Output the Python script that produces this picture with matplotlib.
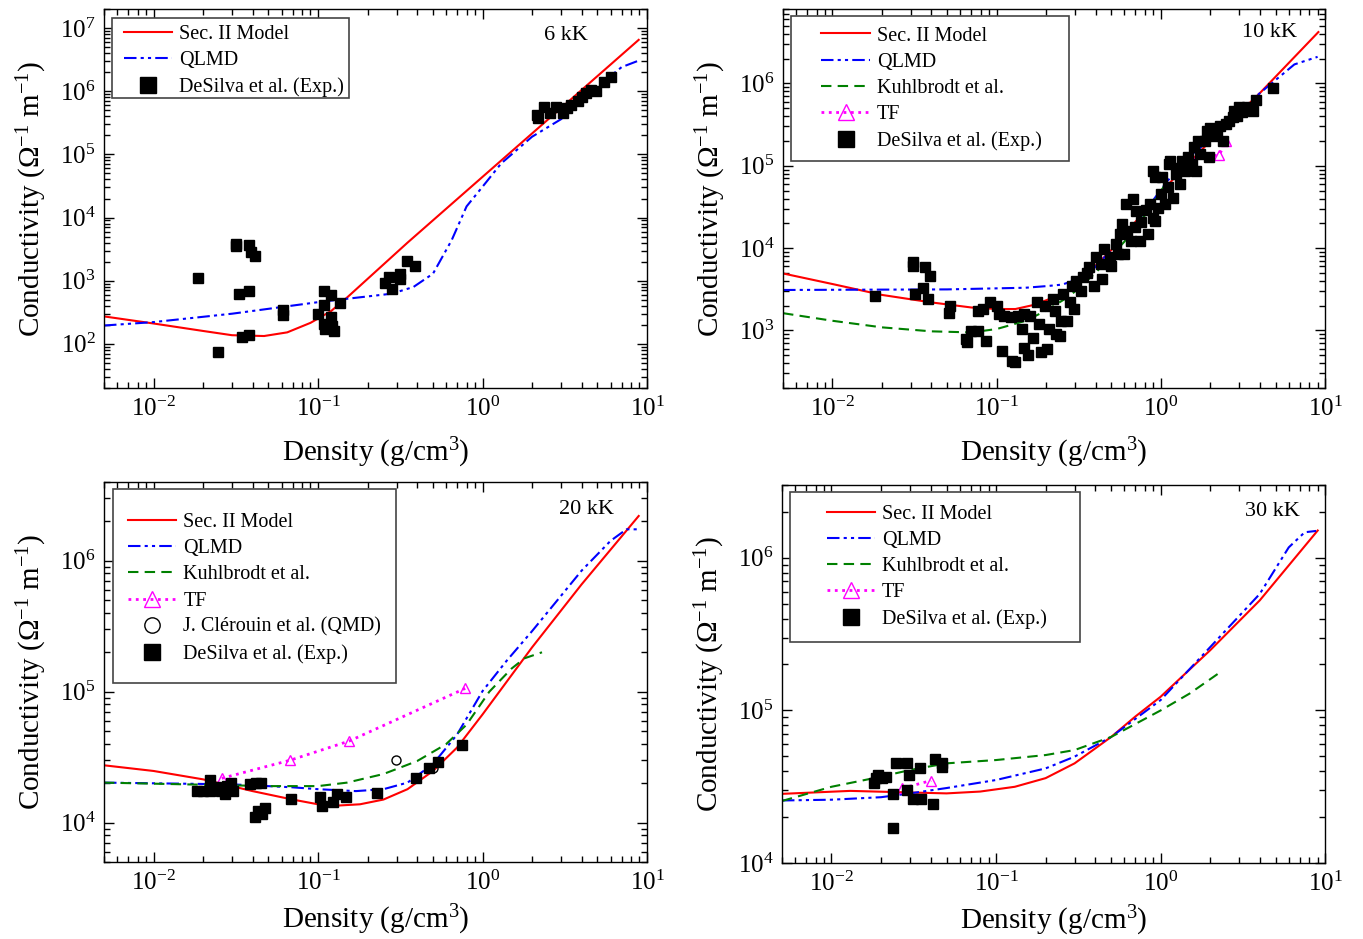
import matplotlib
matplotlib.use("Agg")
import matplotlib.pyplot as plt
from matplotlib.ticker import LogLocator, NullFormatter, LogFormatterSciNotation
from matplotlib.patches import Rectangle

plt.rcParams['font.family'] = ['Liberation Serif', 'DejaVu Serif']
plt.rcParams['mathtext.fontset'] = 'custom'
plt.rcParams['mathtext.rm'] = 'Liberation Serif'
plt.rcParams['mathtext.it'] = 'Liberation Serif:italic'
plt.rcParams['mathtext.bf'] = 'Liberation Serif:bold'
plt.rcParams['axes.unicode_minus'] = False

# ---------------- 6 kK ----------------
sec2_6_x = [0.005, 0.01, 0.02, 0.03, 0.047, 0.065, 0.09, 0.12, 0.15, 0.35, 1.0, 3.0, 8.9]
sec2_6_y = [272, 210, 160, 137, 133, 152, 215, 330, 540, 4000, 44000, 5.4e5, 6.5e6]
qlmd_6_x = [0.005, 0.01, 0.03, 0.1, 0.15, 0.28, 0.38, 0.5, 0.65, 0.8, 1.0, 1.3, 2.0, 3.0, 4.0, 5.6, 7.0, 8.9]
qlmd_6_y = [195, 221, 300, 457, 517, 622, 794, 1290, 4400, 15000, 30700, 72000, 1.9e5, 3.6e5, 7.0e5, 1.5e6, 2.4e6, 3.05e6]
exp_6_x = [0.0187, 0.0316, 0.0316, 0.0379, 0.039, 0.0415, 0.033, 0.0379, 0.0245, 0.0347, 0.038,
           0.0616, 0.0616, 0.1, 0.109, 0.12, 0.108, 0.108, 0.11, 0.12, 0.122, 0.125, 0.1355,
           0.256, 0.27, 0.28, 0.316, 0.316, 0.346, 0.386,
           2.13, 2.18, 2.38, 2.56, 2.80, 3.07, 3.26, 3.46, 3.79, 4.03, 4.28, 4.55, 4.92, 5.45, 6.05]
exp_6_y = [1117, 3860, 3500, 3650, 2850, 2450, 622, 686, 74, 128, 139,
           338, 282, 300, 686, 585, 406, 209, 174, 263, 195, 162, 443,
           918, 1150, 746, 1290, 1070, 2050, 1690,
           4.2e5, 3.7e5, 5.7e5, 4.5e5, 5.6e5, 4.5e5, 5.4e5, 6.1e5, 6.9e5, 8.2e5, 9.3e5, 1.05e6, 9.9e5, 1.42e6, 1.65e6]

# ---------------- 10 kK ----------------
sec2_10_x = [0.005, 0.01, 0.02, 0.04, 0.07, 0.1, 0.13, 0.17, 0.25, 0.3, 0.5, 1.0, 2.0, 4.0, 9.1]
sec2_10_y = [4920, 3660, 2700, 2190, 1900, 1820, 1820, 2050, 2760, 3500, 9500, 4.8e4, 2e5, 7.6e5, 4.2e6]
qlmd_10_x = [0.005, 0.05, 0.15, 0.2, 0.25, 0.35, 0.676, 1.1, 2.0, 4.0, 5.0, 6.5, 9.0]
qlmd_10_y = [3100, 3150, 3300, 3450, 3600, 4500, 1.78e4, 6.6e4, 2.2e5, 7.6e5, 1.1e6, 1.7e6, 2.1e6]
kuhl_10_x = [0.005, 0.01, 0.02, 0.04, 0.07, 0.1, 0.15, 0.2, 0.28, 0.4, 0.6, 0.8, 1.1]
kuhl_10_y = [1620, 1310, 1090, 975, 946, 1040, 1310, 1740, 2640, 5000, 1.2e4, 2.5e4, 6.6e4]
tf_10_x = [1.4, 2.27, 2.5]
tf_10_y = [1.15e5, 1.36e5, 2.0e5]
exp_10_x = [0.0182, 0.031, 0.031, 0.0316, 0.0356, 0.0365, 0.0383, 0.0395, 0.052, 0.051,
            0.065, 0.066, 0.070, 0.0765, 0.0765, 0.082, 0.0855, 0.0915, 0.1, 0.1035,
            0.108, 0.111, 0.122, 0.124, 0.13, 0.134, 0.142, 0.147, 0.147, 0.156,
            0.16, 0.167, 0.176, 0.18, 0.186, 0.197, 0.203, 0.208, 0.22, 0.226,
            0.229, 0.242, 0.246, 0.254, 0.267, 0.278, 0.286, 0.295, 0.304, 0.324,
            0.334, 0.357, 0.367, 0.39, 0.40, 0.43, 0.44, 0.45, 0.487, 0.50,
            0.53, 0.55, 0.56, 0.58, 0.60, 0.61, 0.62, 0.655, 0.676, 0.70,
            0.71, 0.75, 0.76, 0.81, 0.84, 0.86, 0.89, 0.89, 0.915, 0.915,
            0.96, 0.995, 1.02, 1.06, 1.1, 1.12, 1.14, 1.18, 1.24, 1.28,
            1.3, 1.35, 1.4, 1.47, 1.54, 1.58, 1.64, 1.68, 1.74, 1.85,
            1.91, 1.97, 2.0, 2.1, 2.19, 2.3, 2.4, 2.5, 2.6, 2.73,
            2.8, 2.9, 3.0, 3.1, 3.33, 3.65, 3.77, 4.83]
exp_10_y = [2590, 6100, 6700, 2750, 3240, 5900, 2400, 4600, 2000, 1610,
            785, 715, 990, 1740, 990, 1820, 750, 2190, 2000, 1580,
            560, 1500, 1440, 430, 410, 1500, 1040, 620, 1580, 510,
            1500, 820, 2190, 1190, 540, 2000, 590, 1040, 2400, 1740,
            900, 860, 1310, 2760, 1310, 2190, 3470, 1820, 4000, 3020,
            4400, 5000, 5900, 3470, 7800, 6400, 4170, 9800, 7800, 6100,
            1.12e4, 8500, 1.48e4, 1.95e4, 8500, 3.4e4, 1.6e4, 1.23e4, 3.9e4, 1.78e4,
            2.8e4, 1.23e4, 2.1e4, 2.9e4, 1.48e4, 3.4e4, 2.35e4, 8.7e4, 7.2e4, 2.15e4,
            3.1e4, 4.5e4, 7.2e4, 3.4e4, 5.5e4, 1.05e5, 1.15e5, 4.1e4, 7.9e4, 9.5e4,
            6.0e4, 1.15e5, 8.7e4, 1.26e5, 1.05e5, 1.67e5, 8.7e4, 2.0e5, 1.38e5, 2.0e5,
            2.65e5, 1.26e5, 2.9e5, 2.3e5, 2.4e5, 3.06e5, 2.0e5, 3.2e5, 3.5e5, 3.9e5,
            4.66e5, 4.0e5, 5.1e5, 4.46e5, 5.1e5, 4.66e5, 6.3e5, 8.8e5]

# ---------------- 20 kK ----------------
sec2_20_x = [0.005, 0.01, 0.02, 0.04, 0.07, 0.1, 0.12, 0.18, 0.25, 0.35, 0.5, 0.7, 1.0, 2.0, 4.0, 8.9]
sec2_20_y = [2.74e4, 2.48e4, 2.14e4, 1.74e4, 1.5e4, 1.38e4, 1.34e4, 1.38e4, 1.5e4, 1.8e4, 2.48e4, 3.74e4,
             6.7e4, 2.18e5, 6.6e5, 2.2e6]
qlmd_20_x = [0.005, 0.03, 0.07, 0.1, 0.17, 0.25, 0.35, 0.5, 0.7, 1.0, 1.4, 2.0, 4.0, 6.0, 7.5, 8.8]
qlmd_20_y = [2.02e4, 1.96e4, 1.86e4, 1.8e4, 1.74e4, 1.8e4, 2.02e4, 2.8e4, 4.7e4, 1.01e5, 1.72e5, 2.9e5,
             8.4e5, 1.42e6, 1.74e6, 1.74e6]
kuhl_20_x = [0.005, 0.05, 0.1, 0.15, 0.25, 0.4, 0.6, 0.8, 1.1, 1.5, 1.8, 2.3]
kuhl_20_y = [2.02e4, 1.9e4, 1.9e4, 2.02e4, 2.35e4, 2.95e4, 3.97e4, 5.6e4, 1.0e5, 1.5e5, 1.8e5, 2.0e5]
tf_20_x = [0.026, 0.068, 0.155, 0.785]
tf_20_y = [2.18e4, 3.0e4, 4.2e4, 1.06e5]
qmd_20_x = [0.298, 0.497]
qmd_20_y = [3.0e4, 2.6e4]
exp_20_x = [0.0183, 0.0201, 0.022, 0.022, 0.024, 0.0256, 0.0272, 0.028, 0.0297, 0.0303,
            0.0386, 0.042, 0.045, 0.0416, 0.043, 0.0455, 0.0477, 0.0684, 0.103, 0.106,
            0.123, 0.13, 0.148, 0.229, 0.395, 0.47, 0.535, 0.751]
exp_20_y = [1.73e4, 1.73e4, 2.11e4, 1.74e4, 1.86e4, 1.74e4, 1.65e4, 1.9e4, 2.0e4, 1.73e4,
            1.96e4, 2.0e4, 2.0e4, 1.1e4, 1.23e4, 1.16e4, 1.29e4, 1.52e4, 1.57e4, 1.34e4,
            1.44e4, 1.65e4, 1.57e4, 1.68e4, 2.2e4, 2.6e4, 2.9e4, 3.9e4]

# ---------------- 30 kK ----------------
sec2_30_x = [0.005, 0.013, 0.03, 0.05, 0.08, 0.13, 0.2, 0.3, 0.5, 0.7, 1.0, 2.0, 4.0, 9.0]
sec2_30_y = [2.84e4, 2.97e4, 2.9e4, 2.86e4, 2.94e4, 3.16e4, 3.6e4, 4.5e4, 6.7e4, 9.1e4, 1.23e5, 2.48e5,
             5.26e5, 1.51e6]
qlmd_30_x = [0.005, 0.01, 0.02, 0.03, 0.05, 0.1, 0.2, 0.3, 0.5, 1.0, 2.0, 4.0, 6.0, 7.5, 8.8]
qlmd_30_y = [2.57e4, 2.6e4, 2.7e4, 2.86e4, 3.1e4, 3.5e4, 4.17e4, 4.98e4, 6.7e4, 1.17e5, 2.6e5, 5.8e5,
             1.17e6, 1.47e6, 1.5e6]
kuhl_30_x = [0.005, 0.01, 0.02, 0.03, 0.05, 0.1, 0.2, 0.3, 0.5, 1.0, 1.5, 2.3]
kuhl_30_y = [2.55e4, 3.16e4, 3.68e4, 4.07e4, 4.5e4, 4.73e4, 5.1e4, 5.5e4, 6.7e4, 1.0e5, 1.29e5, 1.78e5]
tf_30_x = [0.0269, 0.0403]
tf_30_y = [3.09e4, 3.47e4]
exp_30_x = [0.0182, 0.0187, 0.0193, 0.0202, 0.0214, 0.0247, 0.0286, 0.0296, 0.0343, 0.0428,
            0.0466, 0.0468, 0.0235, 0.0286, 0.0311, 0.0352, 0.0413, 0.0235]
exp_30_y = [3.37e4, 3.59e4, 3.78e4, 3.59e4, 3.64e4, 4.5e4, 4.5e4, 3.78e4, 4.22e4, 4.79e4,
            4.5e4, 4.27e4, 2.84e4, 3.02e4, 2.63e4, 2.63e4, 2.45e4, 1.69e4]

titles = ['6 kK', '10 kK', '20 kK', '30 kK']
ylims = [(20, 2e7), (200, 8e6), (5000, 4e6), (1e4, 3e6)]
xlim = (0.005, 10)

LBL_SEC = 'Sec. II Model'
LBL_QLMD = 'QLMD'
LBL_KUHL = 'Kuhlbrodt et al.'
LBL_TF = 'TF'
LBL_QMD = 'J. Clérouin et al. (QMD)'
LBL_EXP = 'DeSilva et al. (Exp.)'

fig = plt.figure(figsize=(13.63, 9.39), dpi=100)
positions = [
    [0.0763, 0.5868, 0.3984, 0.4036],
    [0.5745, 0.5868, 0.3977, 0.4036],
    [0.0763, 0.0820, 0.3984, 0.4047],
    [0.5737, 0.0809, 0.3986, 0.4026],
]
axes = [fig.add_axes(p) for p in positions]

red_kw = dict(color='#ff0000', lw=1.5, ls='-')
blue_kw = dict(color='#0000ff', lw=1.5, dashes=(6, 2, 1.5, 2, 1.5, 2))
green_kw = dict(color='#008000', lw=1.5, dashes=(5, 3))
tf_kw = dict(color='#ff00ff', lw=2.0, ls=':', marker='^', mfc='none', mec='#ff00ff', ms=6.5, mew=1.0)
exp_kw = dict(ls='none', marker='s', color='black', ms=7)
qmd_kw = dict(ls='none', marker='o', mfc='none', mec='black', ms=6.5, mew=1.0)


def style_axis(ax, ylim, xpad):
    ax.set_xscale('log')
    ax.set_yscale('log')
    ax.set_xlim(*xlim)
    ax.set_ylim(*ylim)
    for axis in (ax.xaxis, ax.yaxis):
        axis.set_major_locator(LogLocator(base=10, numticks=20))
        axis.set_minor_locator(LogLocator(base=10, subs=range(2, 10), numticks=100))
        axis.set_major_formatter(LogFormatterSciNotation())
        axis.set_minor_formatter(NullFormatter())
    ax.tick_params(which='both', direction='in', top=True, right=True, width=1.0)
    ax.tick_params(which='major', length=7, labelsize=18, pad=6)
    ax.tick_params(which='minor', length=4)
    for s in ax.spines.values():
        s.set_linewidth(1.0)
    ax.set_xlabel('Density (g/cm$^{\\mathregular{3}}$)', fontsize=21, labelpad=xpad)
    ax.set_ylabel('Conductivity ($\\mathregular{\\Omega^{-1}\\ m^{-1}}$)', fontsize=21, labelpad=8)


def add_legend(ax, box, hx, ymid):
    x0, y0, x1, y1 = box
    rect = Rectangle((x0, y0), x1 - x0, y1 - y0, transform=ax.transAxes,
                     facecolor='white', edgecolor='#444444', lw=1.2, zorder=4)
    ax.add_patch(rect)
    leg = ax.legend(loc='center left', bbox_to_anchor=(hx, ymid), frameon=False,
                    fontsize=14.5, borderpad=0, borderaxespad=0, handlelength=2.4,
                    handletextpad=0.35, labelspacing=0.35, markerscale=1.7, numpoints=1)
    leg.set_zorder(5)


# Panel 1
ax = axes[0]
ax.plot(sec2_6_x, sec2_6_y, label=LBL_SEC, **red_kw)
ax.plot(qlmd_6_x, qlmd_6_y, label=LBL_QLMD, **blue_kw)
ax.plot(exp_6_x, exp_6_y, label=LBL_EXP, **exp_kw)
style_axis(ax, ylims[0], 11)
add_legend(ax, (0.0144, 0.765, 0.452, 0.977), 0.036, 0.863)
ax.text(0.851, 0.931, titles[0], transform=ax.transAxes, fontsize=16, ha='center', va='center')

# Panel 2
ax = axes[1]
ax.plot(sec2_10_x, sec2_10_y, label=LBL_SEC, **red_kw)
ax.plot(qlmd_10_x, qlmd_10_y, label=LBL_QLMD, **blue_kw)
ax.plot(kuhl_10_x, kuhl_10_y, label=LBL_KUHL, **green_kw)
ax.plot(tf_10_x, tf_10_y, label=LBL_TF, **tf_kw)
ax.plot(exp_10_x, exp_10_y, label=LBL_EXP, **exp_kw)
style_axis(ax, ylims[1], 11)
add_legend(ax, (0.0144, 0.599, 0.527, 0.982), 0.0707, 0.790)
ax.text(0.898, 0.937, titles[1], transform=ax.transAxes, fontsize=16, ha='center', va='center')

# Panel 3
ax = axes[2]
ax.plot(sec2_20_x, sec2_20_y, label=LBL_SEC, **red_kw)
ax.plot(qlmd_20_x, qlmd_20_y, label=LBL_QLMD, **blue_kw)
ax.plot(kuhl_20_x, kuhl_20_y, label=LBL_KUHL, **green_kw)
ax.plot(tf_20_x, tf_20_y, label=LBL_TF, **tf_kw)
ax.plot(qmd_20_x, qmd_20_y, label=LBL_QMD, **qmd_kw)
ax.plot(exp_20_x, exp_20_y, label=LBL_EXP, **exp_kw)
style_axis(ax, ylims[2], 6)
add_legend(ax, (0.0175, 0.47, 0.537, 0.981), 0.044, 0.720)
ax.text(0.888, 0.928, titles[2], transform=ax.transAxes, fontsize=16, ha='center', va='center')

# Panel 4
ax = axes[3]
ax.plot(sec2_30_x, sec2_30_y, label=LBL_SEC, **red_kw)
ax.plot(qlmd_30_x, qlmd_30_y, label=LBL_QLMD, **blue_kw)
ax.plot(kuhl_30_x, kuhl_30_y, label=LBL_KUHL, **green_kw)
ax.plot(tf_30_x, tf_30_y, label=LBL_TF, **tf_kw)
ax.plot(exp_30_x, exp_30_y, label=LBL_EXP, **exp_kw)
style_axis(ax, ylims[3], 6)
add_legend(ax, (0.0144, 0.585, 0.549, 0.982), 0.0825, 0.783)
ax.text(0.902, 0.929, titles[3], transform=ax.transAxes, fontsize=16, ha='center', va='center')

fig.savefig('out.png', dpi=100)
